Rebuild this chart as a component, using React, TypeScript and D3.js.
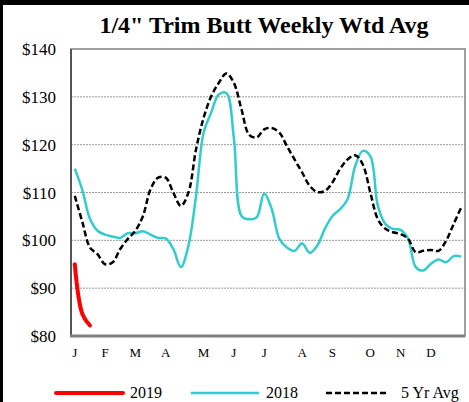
import React from "react";
import * as d3 from "d3";

const weeks = d3.range(1, 53);
const series2018 = [115, 110.5, 104.5, 102, 101.2, 100.8, 100.5, 101.5, 101.5, 101.9, 101.2, 100.5, 100.4, 98.2, 94.4, 98.9, 109.3, 122.5, 126.7, 130.5, 130.8, 121.3, 105.1, 104.4, 104.8, 109.8, 106.5, 100.3, 98.5, 97.8, 99.4, 97.4, 98.9, 102.4, 105.1, 106.5, 108.6, 115.5, 118.7, 117.6, 107.2, 103.4, 102.4, 102.2, 100.3, 94.4, 93.7, 95.1, 96, 95.4, 96.7, 96.6];
const seriesAvg = [109.3, 103.8, 98.5, 97.1, 95, 95.4, 98.2, 100.3, 102, 105.1, 110.7, 113.1, 113.1, 110, 107.2, 110, 119, 125.6, 130.1, 132.9, 134.9, 132.9, 127.4, 122.1, 121.5, 123.2, 123.5, 122.5, 119.7, 116.9, 114.2, 111.4, 110.1, 110.3, 112.1, 114.9, 116.9, 117.8, 115.9, 110, 104.4, 102.4, 101.7, 101.3, 100.3, 97.5, 97.8, 98, 97.8, 99.9, 103.4, 106.9];
const series2019 = [95, 84.6, 82.2];
const yTicks = [80, 90, 100, 110, 120, 130, 140];
const monthLabels = ["J", "F", "M", "A", "M", "J", "J", "A", "S", "O", "N", "D"];
const monthWeeks = [1, 5, 9, 13, 18, 22, 26, 31, 35, 40, 44, 48];

const W = 469;
const H = 402;
const L = 71, R = 465, T = 49, B = 336;

export default function App() {
  const x = d3.scaleLinear().domain([0.5, 52.5]).range([L, R]);
  const y = d3.scaleLinear().domain([80, 140]).range([B, T]);
  const line = d3
    .line<number>()
    .x((_, i) => x(weeks[i]))
    .y((d) => y(d))
    .curve(d3.curveCatmullRom.alpha(0.5));
  const serif = "'Liberation Serif', 'Times New Roman', 'DejaVu Serif', serif";

  return (
    <svg
      width={W}
      height={H}
      style={{ position: "fixed", left: 0, top: 0, background: "#fff" }}
      fontFamily={serif}
    >
      <rect x={0} y={0} width={W} height={H} fill="#fff" />
      <rect x={0} y={0} width={W} height={5} fill="#000" />
      <rect x={0} y={0} width={3} height={H} fill="#000" />
      <text x={264} y={33} textAnchor="middle" fontSize={24} fontWeight="bold" fill="#000">
        1/4" Trim Butt Weekly Wtd Avg
      </text>
      {yTicks.slice(1, -1).map((t) => (
        <line
          key={"g" + t}
          x1={L}
          x2={R}
          y1={y(t)}
          y2={y(t)}
          stroke="#808080"
          strokeWidth={0.8}
          strokeDasharray="2,1"
        />
      ))}
      <rect x={L} y={T} width={R - L} height={B - T} fill="none" stroke="#808080" strokeWidth={1.5} />
      <line x1={L} x2={L} y1={T} y2={B} stroke="#555" strokeWidth={2} />
      <line x1={L - 1} x2={R} y1={B} y2={B} stroke="#808080" strokeWidth={3} />
      {yTicks.map((t) => (
        <text key={"y" + t} x={56} y={y(t) + 6} textAnchor="end" fontSize={17} fill="#000">
          ${t}
        </text>
      ))}
      {monthLabels.map((m, i) => (
        <text key={"m" + i} x={x(monthWeeks[i])} y={357} textAnchor="middle" fontSize={13} fill="#000">
          {m}
        </text>
      ))}
      <path d={line(series2018) || ""} fill="none" stroke="#33CCCC" strokeWidth={2.5} />
      <path
        d={line(seriesAvg) || ""}
        fill="none"
        stroke="#000"
        strokeWidth={2.5}
        strokeDasharray="6,3"
      />
      <path d={line(series2019) || ""} fill="none" stroke="#FF0000" strokeWidth={4} strokeLinecap="round" />
      <g fontSize={16} fill="#000">
        <line x1={56} x2={123} y1={393} y2={393} stroke="#FF0000" strokeWidth={4} strokeLinecap="round" />
        <text x={130} y={398}>2019</text>
        <line x1={191} x2={259} y1={393} y2={393} stroke="#33CCCC" strokeWidth={2.5} />
        <text x={266} y={398}>2018</text>
        <line x1={326} x2={388} y1={393} y2={393} stroke="#000" strokeWidth={2.5} strokeDasharray="6,3" />
        <text x={401} y={398}>5 Yr Avg</text>
      </g>
    </svg>
  );
}
